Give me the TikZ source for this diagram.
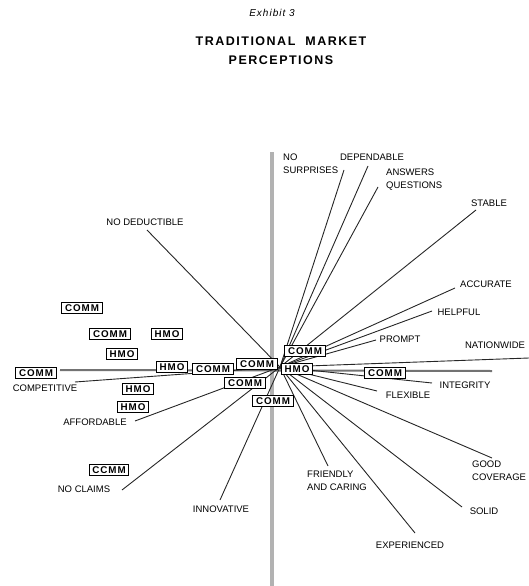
\documentclass[tikz,border=0pt]{standalone}
\usepackage{fontspec}
\setmainfont{Liberation Sans}
\newfontfamily\spacedfont[LetterSpace=10]{Liberation Sans}
\newfontfamily\titlefont[LetterSpace=12]{Liberation Sans}
\begin{document}
\begin{tikzpicture}[x=1pt,y=-1pt,
  lbl/.style={inner sep=0pt,font=\fontsize{9.5}{13}\selectfont},
  tbox/.style={draw=black,line width=1pt,fill=white,inner xsep=3.2pt,inner ysep=2.2pt,
    font=\spacedfont\bfseries\fontsize{9.8}{10}\selectfont},
  conn/.style={draw=black!85,line width=0.9pt},
  vaxis/.style={draw=black!30,line width=3.5pt},
  haxis/.style={draw=black!55,line width=2pt}]
\useasboundingbox (0,0) rectangle (529,586);

% titles
\node (ex) at (272,12.5) {\spacedfont\itshape\fontsize{10}{12}\selectfont Exhibit 3};
\node (t1) at (281,41.5) {\titlefont\bfseries\fontsize{12.5}{14}\selectfont TRADITIONAL\ \ MARKET};
\node (t2) at (281,60.5) {\titlefont\bfseries\fontsize{12.5}{14}\selectfont PERCEPTIONS};

% axes
\coordinate (vtop) at (272,152);
\coordinate (vbot) at (272,586);
\coordinate (hl) at (60,370);
\coordinate (hr) at (492,371);
\draw[vaxis] (vtop) -- (vbot);
\draw[haxis] (hl) -- (hr);

% centre
\coordinate (c) at (280,367);

% labels
\node[lbl,align=left,anchor=west] (nosurp) at (283,164) {NO\\SURPRISES};
\node[lbl] (depend) at (372,157) {DEPENDABLE};
\node[lbl,align=left,anchor=west] (answ) at (386,180) {ANSWERS\\QUESTIONS};
\node[lbl] (stable) at (489,203) {STABLE};
\node[lbl] (nodeduct) at (145,222) {NO DEDUCTIBLE};
\node[lbl] (accur) at (486,284) {ACCURATE};
\node[lbl] (helpful) at (459,312) {HELPFUL};
\node[lbl] (prompt) at (400,339) {PROMPT};
\node[lbl] (nation) at (495,345) {NATIONWIDE};
\node[lbl] (integ) at (465,385) {INTEGRITY};
\node[lbl] (flex) at (408,395) {FLEXIBLE};
\node[lbl,align=left,anchor=west] (goodcov) at (472,471) {GOOD\\COVERAGE};
\node[lbl] (solid) at (484,511) {SOLID};
\node[lbl] (exper) at (410,545) {EXPERIENCED};
\node[lbl,align=left,anchor=west] (friendly) at (307,481) {FRIENDLY\\AND CARING};
\node[lbl] (innov) at (221,509) {INNOVATIVE};
\node[lbl] (noclaims) at (84,489) {NO CLAIMS};
\node[lbl] (afford) at (95,422) {AFFORDABLE};
\node[lbl] (compet) at (45,388) {COMPETITIVE};

% line ends
\coordinate (e-nosurp) at (344,170);
\coordinate (e-depend) at (368,166);
\coordinate (e-answ) at (378,187);
\coordinate (e-stable) at (476,210);
\coordinate (e-nodeduct) at (147,230);
\coordinate (e-accur) at (455,288);
\coordinate (e-helpful) at (432,311);
\coordinate (e-prompt) at (376,340);
\coordinate (e-nation) at (529,358);
\coordinate (e-integ) at (432,383);
\coordinate (e-flex) at (377,391);
\coordinate (e-goodcov) at (492,458);
\coordinate (e-solid) at (462,507);
\coordinate (e-exper) at (415,533);
\coordinate (e-friendly) at (328,466);
\coordinate (e-innov) at (220,500);
\coordinate (e-noclaims) at (122,490);
\coordinate (e-afford) at (135,421);
\coordinate (e-compet) at (75,382);

\foreach \n in {nosurp,depend,answ,stable,nodeduct,accur,helpful,prompt,nation,integ,flex,goodcov,solid,exper,friendly,innov,noclaims,afford,compet}
  \draw[conn] (c) -- (e-\n);

% boxes
\node[tbox] (b1) at (82,308) {COMM};
\node[tbox] (b2) at (110,334) {COMM};
\node[tbox] (b3) at (167,334) {HMO};
\node[tbox] (b4) at (122,354) {HMO};
\node[tbox] (b5) at (36,373) {COMM};
\node[tbox] (b6) at (172,367) {HMO};
\node[tbox] (b7) at (213,369) {COMM};
\node[tbox] (b8) at (138,389) {HMO};
\node[tbox] (b9) at (133,407) {HMO};
\node[tbox] (b10) at (109,470) {CCMM};
\node[tbox] (b11) at (245,383) {COMM};
\node[tbox] (b12) at (273,401) {COMM};
\node[tbox] (b13) at (257,364) {COMM};
\node[tbox] (b14) at (305,351) {COMM};
\node[tbox] (b15) at (297,369) {HMO};
\node[tbox] (b16) at (385,373) {COMM};
\end{tikzpicture}
\end{document}
